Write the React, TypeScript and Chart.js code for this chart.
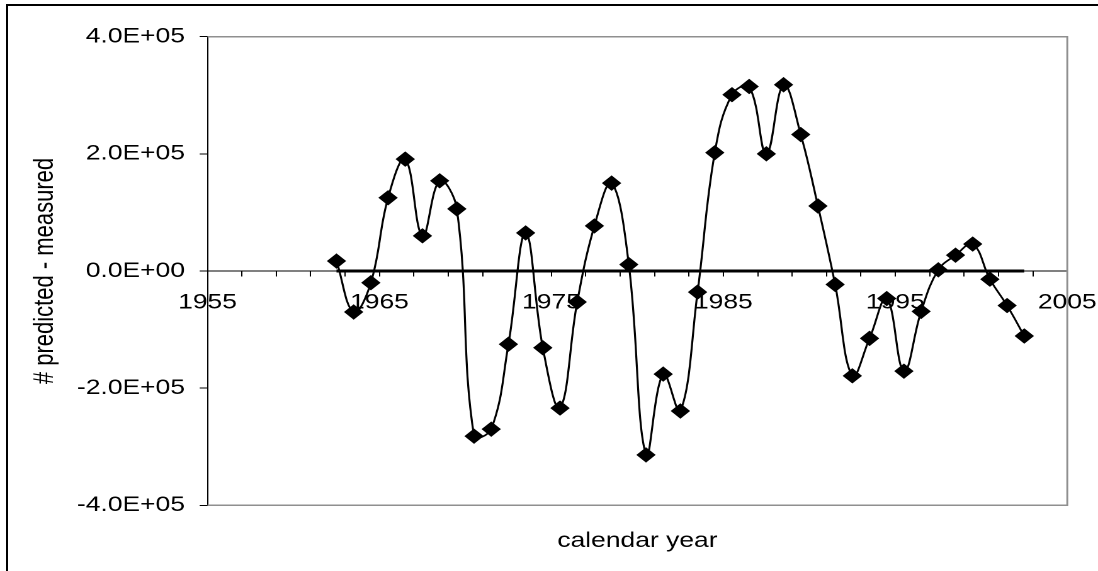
import { useEffect, useRef } from 'react';
import { Chart, registerables } from 'chart.js';

Chart.register(...registerables);

// Mid-year positions of the yearly residuals
const years = [
  1962.5, 1963.5, 1964.5, 1965.5, 1966.5, 1967.5, 1968.5, 1969.5, 1970.5, 1971.5,
  1972.5, 1973.5, 1974.5, 1975.5, 1976.5, 1977.5, 1978.5, 1979.5, 1980.5, 1981.5,
  1982.5, 1983.5, 1984.5, 1985.5, 1986.5, 1987.5, 1988.5, 1989.5, 1990.5, 1991.5,
  1992.5, 1993.5, 1994.5, 1995.5, 1996.5, 1997.5, 1998.5, 1999.5, 2000.5, 2001.5,
  2002.5,
];

// predicted minus measured count per year
const residuals = [
  17000, -70000, -20000, 125000, 191000, 60000, 154000, 106000, -282000, -270000,
  -125000, 65000, -131000, -234000, -53000, 77000, 150000, 11000, -314000, -176000,
  -239000, -36000, 202000, 301000, 315000, 200000, 318000, 233000, 111000, -23000,
  -179000, -115000, -47000, -171000, -69000, 2000, 27000, 46000, -14000, -59000,
  -111000,
];

const xLabelYears = [1955, 1965, 1975, 1985, 1995, 2005];
const yTickValues = [-400000, -200000, 0, 200000, 400000];

const X_MIN = 1955;
const X_MAX = 2005;
const Y_MIN = -400000;
const Y_MAX = 400000;

const PAGE_W = 1098;
const PAGE_H = 571;
const CANVAS_W = 872;
const STRETCH = PAGE_W / CANVAS_W;

const FONT_FAMILY = '"Liberation Sans", Arial, Helvetica, sans-serif';

function sci(v: number): string {
  const [mant, exp] = v.toExponential(1).split('e');
  const sign = exp.startsWith('-') ? '-' : '+';
  const digits = exp.replace(/[+-]/, '').padStart(2, '0');
  return `${mant}E${sign}${digits}`;
}

// grey frame on the top, right and bottom of the plot area
const plotFrame = {
  id: 'plotFrame',
  beforeDatasetsDraw(chart: any) {
    const { ctx, chartArea } = chart;
    const { left, right, top, bottom } = chartArea;
    ctx.save();
    ctx.strokeStyle = '#8f8f8f';
    ctx.lineWidth = 1.5;
    ctx.beginPath();
    ctx.moveTo(left, top);
    ctx.lineTo(right, top);
    ctx.lineTo(right, bottom);
    ctx.lineTo(left, bottom);
    ctx.stroke();
    ctx.restore();
  },
};

export default function App() {
  const canvasRef = useRef<HTMLCanvasElement | null>(null);

  useEffect(() => {
    const canvas = canvasRef.current;
    if (!canvas) return;
    const font = { family: FONT_FAMILY, size: 21 };

    const chart = new Chart(canvas, {
      type: 'line',
      data: {
        datasets: [
          {
            label: 'residual',
            data: years.map((x, i) => ({ x, y: residuals[i] })),
            borderColor: '#000',
            backgroundColor: '#000',
            borderWidth: 1.6,
            tension: 0.4,
            fill: false,
            pointStyle: 'rectRot',
            pointRadius: 7,
            pointBackgroundColor: '#000',
            pointBorderColor: '#000',
            pointBorderWidth: 1,
          },
          {
            label: 'zero',
            data: [
              { x: years[0], y: 0 },
              { x: years[years.length - 1], y: 0 },
            ],
            borderColor: '#000',
            borderWidth: 3,
            pointRadius: 0,
            tension: 0,
            fill: false,
          },
        ],
      },
      options: {
        animation: false,
        responsive: true,
        maintainAspectRatio: false,
        devicePixelRatio: 2,
        layout: { padding: { left: 0, right: 24.4, top: 36.7, bottom: 17.4 } },
        plugins: {
          legend: { display: false },
          tooltip: { enabled: false },
        },
        scales: {
          x: {
            type: 'linear',
            position: { y: 0 },
            min: X_MIN,
            max: X_MAX,
            afterFit: (scale: any) => {
              scale.paddingLeft = 0;
              scale.paddingRight = 0;
            },
            ticks: {
              stepSize: 2,
              autoSkip: false,
              maxRotation: 0,
              color: '#000',
              font,
              padding: 14,
              callback: (v: any) => (xLabelYears.includes(Number(v)) ? String(v) : ''),
            },
            grid: { drawOnChartArea: false, drawTicks: true, tickLength: 5, color: '#000', lineWidth: 1 },
            border: { display: true, color: '#000', width: 1 },
          },
          xTitle: {
            type: 'linear',
            axis: 'x',
            position: 'bottom',
            afterFit: (scale: any) => {
              scale.paddingLeft = 0;
              scale.paddingRight = 0;
            },
            ticks: { display: false },
            grid: { display: false, drawTicks: false },
            border: { display: false },
            title: {
              display: true,
              text: 'calendar year',
              color: '#000',
              font,
              padding: { top: 23.1, bottom: 0 },
            },
          },
          y: {
            type: 'linear',
            min: Y_MIN,
            max: Y_MAX,
            afterBuildTicks: (scale: any) => {
              scale.ticks = yTickValues.map((value) => ({ value }));
            },
            afterFit: (scale: any) => {
              scale.width = 164.8;
            },
            ticks: {
              color: '#000',
              font,
              padding: 11.6,
              callback: (v: any) => sci(Number(v)),
            },
            grid: { drawOnChartArea: false, drawTicks: true, tickLength: 6.3, color: '#000', lineWidth: 1 },
            border: { display: true, color: '#000', width: 1 },
            title: {
              display: true,
              text: '# predicted - measured',
              color: '#000',
              font: { family: FONT_FAMILY, size: 22 },
              padding: { top: 22.5, bottom: 0 },
            },
          },
        },
      },
      plugins: [plotFrame],
    } as any);

    return () => chart.destroy();
  }, []);

  return (
    <div
      style={{
        position: 'fixed',
        left: 0,
        top: 0,
        width: PAGE_W,
        height: PAGE_H,
        overflow: 'hidden',
        background: '#fff',
      }}
    >
      <div
        style={{
          position: 'absolute',
          left: 6,
          top: 4,
          width: PAGE_W + 10,
          height: PAGE_H + 10,
          borderLeft: '2px solid #000',
          borderTop: '2px solid #000',
          boxSizing: 'border-box',
        }}
      />
      <div
        style={{
          position: 'absolute',
          left: 0,
          top: 0,
          width: CANVAS_W,
          height: PAGE_H,
          transform: `scaleX(${STRETCH})`,
          transformOrigin: '0 0',
        }}
      >
        <canvas ref={canvasRef} />
      </div>
    </div>
  );
}
